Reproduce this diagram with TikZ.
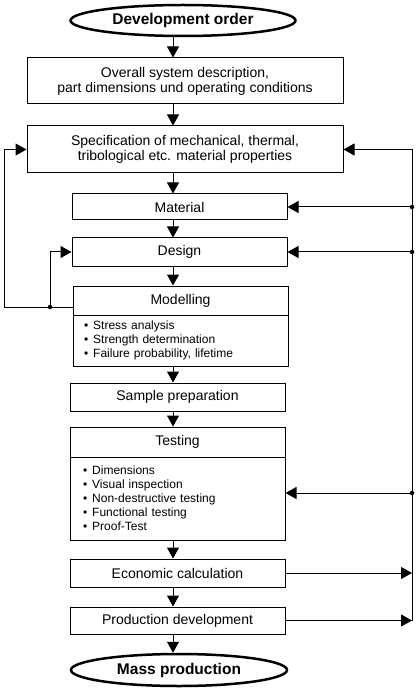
\documentclass[tikz,border=0pt]{standalone}
\usepackage{fontspec}
\setmainfont{Liberation Sans}
\usetikzlibrary{arrows.meta,shapes.geometric}
\begin{document}
\begin{tikzpicture}[x=1pt,y=-1pt,
  box/.style={draw,line width=1pt,rectangle,inner sep=0pt,align=center,
    font=\fontsize{14}{15}\selectfont},
  listbox/.style={draw,line width=1pt,rectangle,inner sep=0pt,
    font=\fontsize{12}{14}\selectfont},
  term/.style={draw,line width=2.5pt,ellipse,inner sep=0pt,
    font=\fontsize{15.5}{17}\bfseries\selectfont},
  arr/.style={line width=1pt,-{Triangle[length=11pt,width=12pt]}},
  ln/.style={line width=1pt},
  jdot/.style={circle,fill,inner sep=0pt,minimum size=4.5pt}]
\useasboundingbox (0,0) rectangle (417,692);
\coordinate (axis) at (173,0);
\coordinate (bus) at (412,0);
\coordinate (lbus) at (4.5,0);
\coordinate (dotx) at (50,0);

\node[term,minimum width=225pt,minimum height=31pt] (start) at (183,20.5) {Development order};
\node[box,minimum width=316pt,minimum height=46pt] (sys) at (185,81)
  {Overall system description,\\part dimensions und operating conditions};
\node[box,minimum width=316pt,minimum height=47pt] (spec) at (185,149.5)
  {Specification of mechanical, thermal,\\tribological etc. material properties};
\node[box,minimum width=215pt,minimum height=26pt] (mat) at (179.5,207) {Material};
\node[box,minimum width=215pt,minimum height=28pt] (des) at (179.5,252) {Design};
\node[box,minimum width=215pt,minimum height=29pt] (mod) at (180.5,300.5) {Modelling};
\node[listbox,minimum width=215pt,minimum height=51pt,text width=193pt,align=left] (modb) at (180.5,340.5)
  {\textbullet\hspace{5pt}Stress analysis\\
   \textbullet\hspace{5pt}Strength determination\\
   \textbullet\hspace{5pt}Failure probability, lifetime};
\node[box,minimum width=215pt,minimum height=28pt] (samp) at (177.5,397) {Sample preparation};
\node[box,minimum width=215pt,minimum height=30pt] (test) at (177.5,442) {Testing};
\node[listbox,minimum width=215pt,minimum height=83pt,text width=189pt,align=left] (testb) at (177.5,498.5)
  {\textbullet\hspace{5pt}Dimensions\\
   \textbullet\hspace{5pt}Visual inspection\\
   \textbullet\hspace{5pt}Non-destructive testing\\
   \textbullet\hspace{5pt}Functional testing\\
   \textbullet\hspace{5pt}Proof-Test};
\node[box,minimum width=215pt,minimum height=28pt] (eco) at (177.5,573) {Economic calculation};
\node[box,minimum width=215pt,minimum height=27pt] (prod) at (177.5,620.5) {Production development};
\node[term,minimum width=216pt,minimum height=32pt] (end) at (179,670) {Mass production};

% main flow
\draw[arr] (start.south -| axis) -- (sys.north -| axis);
\draw[arr] (sys.south -| axis) -- (spec.north -| axis);
\draw[arr] (spec.south -| axis) -- (mat.north -| axis);
\draw[arr] (mat.south -| axis) -- (des.north -| axis);
\draw[arr] (des.south -| axis) -- (mod.north -| axis);
\draw[arr] (modb.south -| axis) -- (samp.north -| axis);
\draw[arr] (samp.south -| axis) -- (test.north -| axis);
\draw[arr] (testb.south -| axis) -- (eco.north -| axis);
\draw[arr] (eco.south -| axis) -- (prod.north -| axis);
\draw[arr] (prod.south -| axis) -- (end.north -| axis);

% right feedback bus
\coordinate (tin) at ([yshift=5.5pt]testb.east);
\draw[ln] (bus |- spec.east) -- (bus |- prod.east);
\draw[arr] (bus |- spec.east) -- (spec.east);
\draw[arr] (bus |- mat.east) -- (mat.east);
\draw[arr] (bus |- des.east) -- (des.east);
\draw[arr] (bus |- tin) -- (tin);
\draw[arr] (eco.east) -- (bus |- eco.east);
\draw[arr] (prod.east) -- (bus |- prod.east);
\node[jdot] (d1) at (bus |- mat.east) {};
\node[jdot] (d2) at (bus |- des.east) {};
\node[jdot] (d3) at (bus |- tin) {};

% left feedback
\coordinate (mdl) at ([yshift=-6.5pt]mod.west);
\draw[arr] (mdl) -- (lbus |- mdl) -- (lbus |- spec.west) -- (spec.west);
\node[jdot] (d4) at (dotx |- mdl) {};
\draw[arr] (d4.center) |- (des.west);
\end{tikzpicture}
\end{document}
